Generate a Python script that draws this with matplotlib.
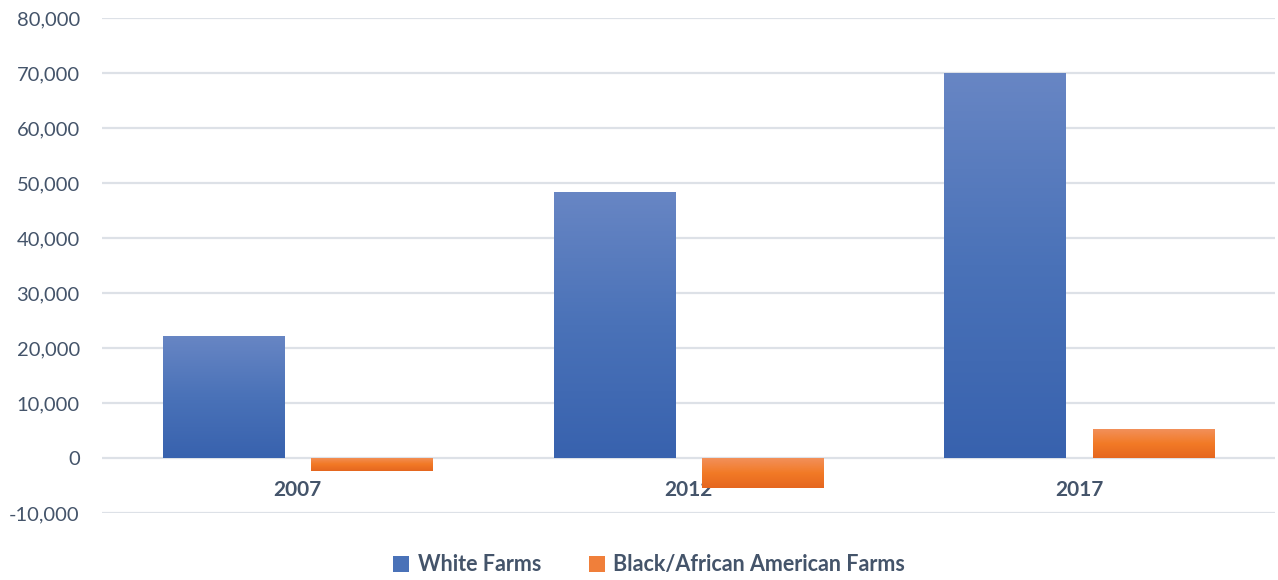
import numpy as np
import matplotlib
matplotlib.use("Agg")
import matplotlib.pyplot as plt
from matplotlib.colors import LinearSegmentedColormap
from matplotlib.patches import Patch

years = ["2007", "2012", "2017"]
white_farms = [22200, 48400, 70000]
black_farms = [-2450, -5400, 5250]
series_names = ["White Farms", "Black/African American Farms"]
y_ticks = [-10000, 0, 10000, 20000, 30000, 40000, 50000, 60000, 70000, 80000]

plt.rcParams['font.family'] = ['Lato', 'DejaVu Sans']
plt.rcParams['axes.unicode_minus'] = False

fig = plt.figure(figsize=(12.78, 5.8), dpi=100)
ax = fig.add_axes([0.0798, 0.1155, 0.9177, 0.8535])

text_col = "#44546a"
grid_col = "#dde1e7"

x = np.arange(len(years))
w = 0.31
off = 0.19

blue_cmap = LinearSegmentedColormap.from_list("b", ["#3862ae", "#4a72b8", "#6886c4"])
orange_cmap = LinearSegmentedColormap.from_list("o", ["#e5661f", "#f27a26", "#f2905a"])

b1 = ax.bar(x - off, white_farms, w, color="#4472c4", zorder=3, linewidth=0)
b2 = ax.bar(x + off, black_farms, w, color="#ed7d31", zorder=3, linewidth=0)

grad = np.linspace(0, 1, 256).reshape(-1, 1)
for bars, cmap in ((b1, blue_cmap), (b2, orange_cmap)):
    for bar in bars:
        x0 = bar.get_x()
        x1 = x0 + bar.get_width()
        y0 = min(bar.get_y(), bar.get_y() + bar.get_height())
        y1 = max(bar.get_y(), bar.get_y() + bar.get_height())
        im = ax.imshow(grad, cmap=cmap, aspect='auto', extent=(x0, x1, y0, y1),
                       origin='lower', zorder=4, interpolation='bilinear')
        im.set_clip_path(bar)

ax.set_xlim(-0.5, 2.5)
ax.set_ylim(-10000, 80000)
ax.set_yticks(y_ticks)
ax.set_yticklabels([f"{v:,}" for v in y_ticks])
ax.yaxis.grid(True, color=grid_col, linewidth=1.6, zorder=0)
ax.set_axisbelow(True)

ax.spines['bottom'].set_position(('data', 0))
for s in ax.spines.values():
    s.set_visible(False)

ax.set_xticks(x)
ax.set_xticklabels(years, fontsize=15, fontweight='bold', color=text_col)
ax.tick_params(axis='x', length=0, pad=16)
ax.tick_params(axis='y', length=0, pad=16, labelsize=14.5, labelcolor=text_col)

handles = [Patch(facecolor="#4a72b8", edgecolor='none'),
           Patch(facecolor="#f07f3a", edgecolor='none')]
leg = fig.legend(handles, series_names, loc='center', bbox_to_anchor=(0.508, 0.026),
                 ncol=2, frameon=False, fontsize=15.5, handlelength=0.75, handleheight=0.75,
                 handletextpad=0.4, columnspacing=2.2)
for t in leg.get_texts():
    t.set_color(text_col)
    t.set_fontweight('bold')

fig.savefig("out.png", dpi=100)
